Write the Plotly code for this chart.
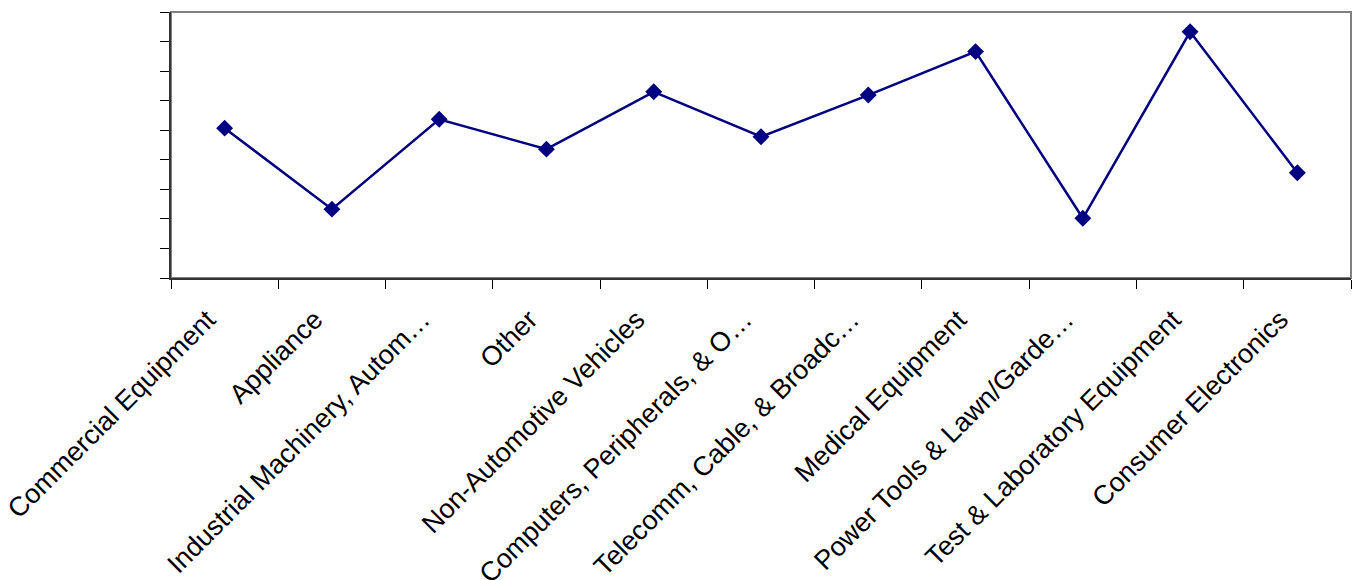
import plotly.graph_objects as go

categories = [
    "Commercial Equipment",
    "Appliance",
    "Industrial Machinery, Autom…",
    "Other",
    "Non-Automotive Vehicles",
    "Computers, Peripherals, & O…",
    "Telecomm, Cable, & Broadc…",
    "Medical Equipment",
    "Power Tools & Lawn/Garde…",
    "Test & Laboratory Equipment",
    "Consumer Electronics",
]
values = [5.07, 2.33, 5.37, 4.36, 6.30, 4.78, 6.19, 7.66, 2.02, 8.33, 3.56]

fig = go.Figure()
fig.add_trace(go.Scatter(
    x=categories, y=values, mode="lines+markers",
    line=dict(color="#000080", width=2.5),
    marker=dict(symbol="diamond", size=13, color="#000080"),
    showlegend=False, hoverinfo="skip",
))

fig.add_shape(type="rect", xref="paper", yref="paper", x0=0, y0=0, x1=1, y1=1,
              line=dict(color="#808080", width=2), layer="below")

fig.update_layout(
    width=1356, height=580,
    margin=dict(l=171, r=5, t=12, b=302),
    paper_bgcolor="white", plot_bgcolor="white",
    font=dict(family="Liberation Sans, Arial, sans-serif", size=27, color="black"),
    xaxis=dict(
        type="category", range=[-0.5, 10.5], tickson="boundaries",
        ticks="outside", ticklen=9, tickcolor="#000000", tickwidth=1,
        showline=True, linecolor="#333333", linewidth=2,
        showgrid=False, zeroline=False, tickangle=-45, automargin=False,
        ticklabelstandoff=13, ticklabelshift=-17,
    ),
    yaxis=dict(
        range=[0, 9], dtick=1, ticks="outside", ticklen=9, tickcolor="#000000",
        showticklabels=False, showline=True, linecolor="#333333", linewidth=2,
        showgrid=False, zeroline=False, automargin=False,
    ),
)

fig.write_html("out.html")
